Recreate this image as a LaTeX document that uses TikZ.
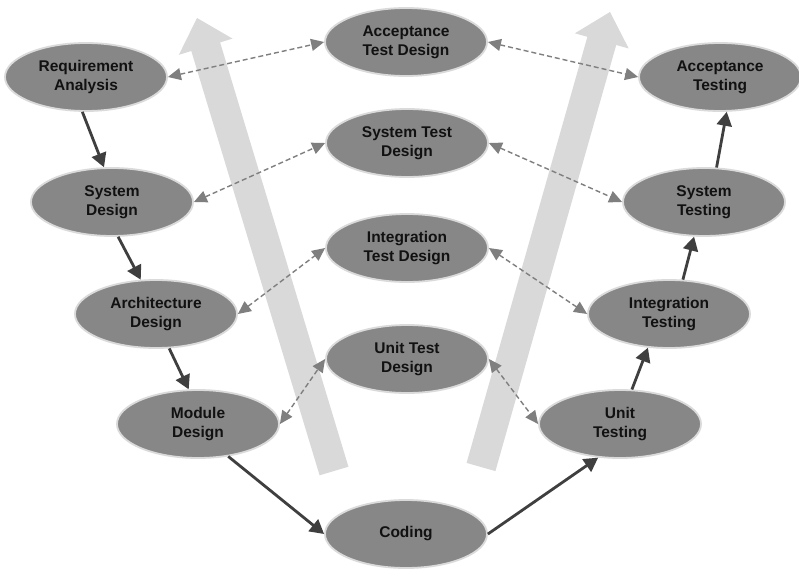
\documentclass[tikz,border=0pt]{standalone}
\usepackage{fontspec}
\setmainfont{Liberation Sans}
\usetikzlibrary{shapes.geometric,arrows.meta}
\definecolor{ellfill}{HTML}{878787}
\definecolor{ellrim}{HTML}{DADADA}
\definecolor{bigarrow}{HTML}{D9D9D9}
\definecolor{solidc}{HTML}{3F3F3F}
\definecolor{dashc}{HTML}{7F7F7F}
\definecolor{txt}{HTML}{111111}
\tikzset{
  phase/.style={ellipse, fill=ellfill, draw=ellrim, line width=1.8pt,
    minimum width=162pt, minimum height=68pt, inner sep=0pt,
    align=center, text=txt, font=\fontsize{15.5}{19}\selectfont\bfseries},
  flow/.style={draw=solidc, line width=2.8pt, -{Triangle[length=14pt,width=15pt]}},
  trace/.style={draw=dashc, line width=1.4pt, dash pattern=on 5pt off 3pt,
    {Triangle[length=13pt,width=12pt]}-{Triangle[length=13pt,width=12pt]}},
  bigarr/.style={fill=bigarrow, draw=none}
}
\begin{document}
\begin{tikzpicture}[x=1pt,y=-1pt]
\useasboundingbox (0,0) rectangle (799,583);
\fill[white] (0,0) rectangle (799,583);
% big background arrows
\path[bigarr] (319.6,475.3) -- (191.3,51.0) -- (178.9,54.8) -- (197,18)
  -- (232.5,38.6) -- (220.1,42.4) -- (348.4,466.7) -- cycle;
\path[bigarr] (466.6,462.9) -- (587.4,36.8) -- (574.9,33.3) -- (610,12)
  -- (628.7,48.5) -- (616.2,45.0) -- (495.4,471.1) -- cycle;
% nodes
\node[phase] (ra) at (86,77) {Requirement\\Analysis};
\node[phase] (sd) at (112,202) {System\\Design};
\node[phase] (ad) at (156,314) {Architecture\\Design};
\node[phase] (md) at (198,424) {Module\\Design};
\node[phase] (co) at (406,534) {Coding};
\node[phase] (ut) at (620,424) {Unit\\Testing};
\node[phase] (it) at (669,314) {Integration\\Testing};
\node[phase] (st) at (704,202) {System\\Testing};
\node[phase] (at) at (720,77) {Acceptance\\Testing};
\node[phase] (atd) at (406,42) {Acceptance\\Test Design};
\node[phase] (std) at (407,143) {System Test\\Design};
\node[phase] (itd) at (407,248) {Integration\\Test Design};
\node[phase] (utd) at (407,359) {Unit Test\\Design};
% solid flow
\draw[flow] (ra.-96) -- (sd.103);
\draw[flow] (sd.-80) -- (ad.114);
\draw[flow] (ad.-69) -- (md.105);
\draw[flow] (md.-47) -- (co.west);
\draw[flow] (co.east) -- (ut.-123);
\draw[flow] (ut.71) -- (it.-122);
\draw[flow] (it.68) -- (st.-106);
\draw[flow] (st.70) -- (at.-79);
% dashed traces
\draw[trace] (ra.east) -- (atd.west);
\draw[trace] (sd.east) -- (std.west);
\draw[trace] (ad.east) -- (itd.west);
\draw[trace] (md.east) -- (utd.west);
\draw[trace] (atd.east) -- (at.west);
\draw[trace] (std.east) -- (st.west);
\draw[trace] (itd.east) -- (it.west);
\draw[trace] (utd.east) -- (ut.west);
\end{tikzpicture}
\end{document}
